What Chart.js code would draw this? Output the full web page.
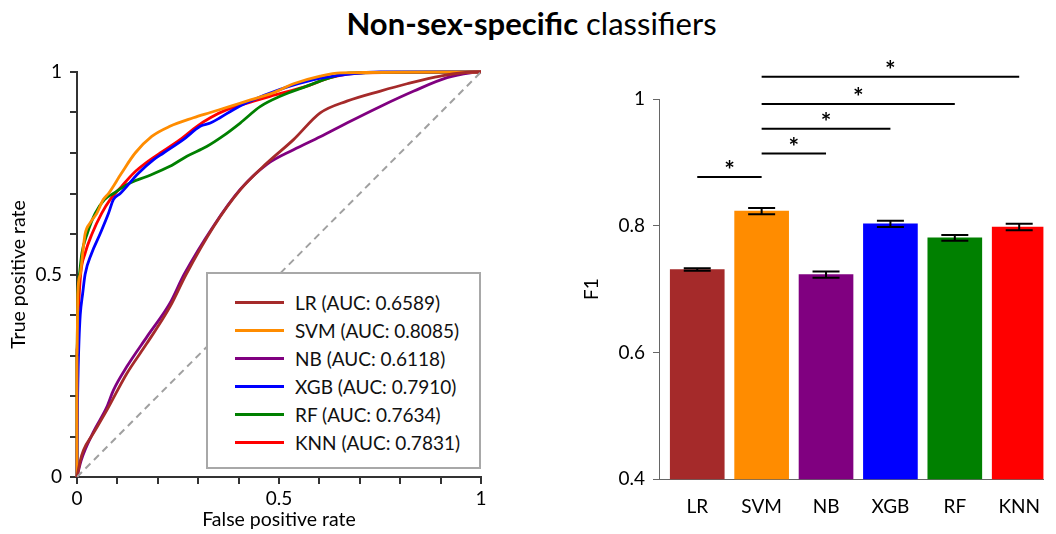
<!DOCTYPE html>
<html>
<head>
<meta charset="utf-8">
<script src="https://cdn.jsdelivr.net/npm/chart.js@4.4.1/dist/chart.umd.min.js"></script>
<style>
  html, body { margin: 0; padding: 0; background: #fff; overflow: hidden; }
  body { width: 1056px; height: 534px; position: relative; font-family: Lato, "Open Sans", sans-serif; }
  #title { position: absolute; left: 0; top: 5px; width: 1063px; text-align: center; font-size: 31px; line-height: 1.2; color: #000; }
  #title b { font-weight: 700; }
  #roc { position: absolute; left: 0; top: 50px; }
  #bars { position: absolute; left: 580px; top: 50px; }
  #legend { position: absolute; left: 206px; top: 272px; width: 275px; height: 197px; box-sizing: border-box;
            border: 2px solid #a8a8a8; background: #fff; padding-top: 15px; }
  #legend .row { height: 27.9px; display: flex; align-items: center; font-size: 19px; color: #111; }
  #legend .swatch { display: inline-block; width: 49px; height: 3px; margin-left: 27px; margin-right: 11px; }
</style>
</head>
<body>
<div id="title"><b>Non-sex-specific</b> classifiers</div>
<canvas id="roc" width="500" height="484"></canvas>
<canvas id="bars" width="476" height="484"></canvas>
<div id="legend"></div>
<script>
// 分類器與顏色
const models = ['LR', 'SVM', 'NB', 'XGB', 'RF', 'KNN'];
const aucs = ['0.6589', '0.8085', '0.6118', '0.7910', '0.7634', '0.7831'];
const colors = ['#a52a2a', '#ff8c00', '#800080', '#0000ff', '#008000', '#ff0000'];

// ROC 曲線
const lrFpr = [0, 0.008, 0.016, 0.04, 0.074, 0.123, 0.173, 0.23, 0.27, 0.338, 0.404, 0.47, 0.536, 0.602, 0.668, 0.751, 0.817, 0.9, 0.982, 1];
const lrTpr = [0, 0.04, 0.066, 0.107, 0.165, 0.255, 0.33, 0.42, 0.5, 0.618, 0.709, 0.775, 0.833, 0.899, 0.928, 0.953, 0.971, 0.99, 1, 1];

const svmFpr = [0, 0, 0.002, 0.008, 0.014, 0.02, 0.032, 0.049, 0.065, 0.078, 0.11, 0.144, 0.185, 0.23, 0.288, 0.33, 0.379, 0.42, 0.487, 0.536, 0.602, 0.652, 1];
const svmTpr = [0, 0.3, 0.453, 0.5, 0.552, 0.6, 0.627, 0.651, 0.685, 0.7, 0.75, 0.8, 0.841, 0.866, 0.887, 0.9, 0.915, 0.928, 0.949, 0.971, 0.99, 0.998, 1];

const nbFpr = [0, 0.01, 0.04, 0.074, 0.09, 0.123, 0.173, 0.23, 0.265, 0.338, 0.404, 0.47, 0.536, 0.602, 0.668, 0.751, 0.834, 0.916, 0.974, 1];
const nbTpr = [0, 0.04, 0.11, 0.173, 0.214, 0.272, 0.346, 0.429, 0.5, 0.62, 0.71, 0.772, 0.808, 0.84, 0.874, 0.915, 0.953, 0.986, 0.998, 1];

const xgbFpr = [0, 0.001, 0.003, 0.005, 0.008, 0.014, 0.02, 0.036, 0.057, 0.078, 0.09, 0.107, 0.152, 0.189, 0.214, 0.263, 0.305, 0.33, 0.354, 0.387, 0.42, 0.503, 0.586, 0.668, 0.751, 1];
const xgbTpr = [0, 0.15, 0.272, 0.338, 0.4, 0.453, 0.5, 0.552, 0.6, 0.651, 0.685, 0.7, 0.75, 0.783, 0.8, 0.833, 0.866, 0.874, 0.887, 0.907, 0.924, 0.957, 0.981, 0.994, 1, 1];

const rfFpr = [0, 0, 0.002, 0.006, 0.012, 0.025, 0.045, 0.068, 0.09, 0.131, 0.173, 0.23, 0.272, 0.321, 0.36, 0.404, 0.454, 0.503, 0.569, 0.627, 0.677, 1];
const rfTpr = [0, 0.3, 0.453, 0.5, 0.552, 0.6, 0.651, 0.685, 0.7, 0.726, 0.742, 0.767, 0.792, 0.816, 0.841, 0.874, 0.915, 0.94, 0.965, 0.986, 0.998, 1];

const knnFpr = [0, 0, 0.003, 0.009, 0.02, 0.037, 0.061, 0.082, 0.11, 0.14, 0.181, 0.206, 0.255, 0.297, 0.33, 0.371, 0.437, 0.478, 0.569, 0.627, 0.71, 1];
const knnTpr = [0, 0.313, 0.4, 0.5, 0.552, 0.6, 0.651, 0.685, 0.717, 0.75, 0.783, 0.8, 0.833, 0.866, 0.887, 0.907, 0.928, 0.94, 0.965, 0.986, 0.998, 1];

const diagFpr = [0, 1];
const diagTpr = [0, 1];

const rocTickValues = [0, 0.5, 1];
const rocTickLabels = ['0', '0.5', '1'];

// F1 長條圖
const f1Mean = [0.731, 0.823, 0.723, 0.803, 0.781, 0.798];
const f1Err = [0.002, 0.005, 0.005, 0.005, 0.0045, 0.005];
const f1TickLabels = ['0.4', '0.6', '0.8', '1'];

// 顯著性標記 (配對, 高度)
const sigPairs = [[0, 1], [1, 2], [1, 3], [1, 4], [1, 5]];
const sigLevel = [0.877, 0.914, 0.953, 0.992, 1.035];

const FONT = 'Lato, "Open Sans", sans-serif';
const toPts = (xs, ys) => xs.map((x, i) => ({ x: x, y: ys[i] }));
const rocFpr = [lrFpr, svmFpr, nbFpr, xgbFpr, rfFpr, knnFpr];
const rocTpr = [lrTpr, svmTpr, nbTpr, xgbTpr, rfTpr, knnTpr];

function rocLabel(v) {
    const k = rocTickValues.findIndex(t => Math.abs(t - v) < 1e-6);
    return k >= 0 ? rocTickLabels[k] : '';
}

new Chart(document.getElementById('roc'), {
    type: 'line',
    data: {
        datasets: [
            {
                label: 'chance',
                data: toPts(diagFpr, diagTpr),
                borderColor: '#a0a0a0',
                borderDash: [7, 5],
                borderWidth: 2,
                pointRadius: 0
            },
            ...models.map((m, i) => ({
                label: `${m} (AUC: ${aucs[i]})`,
                data: toPts(rocFpr[i], rocTpr[i]),
                borderColor: colors[i],
                borderWidth: 2.8,
                pointRadius: 0,
                cubicInterpolationMode: 'monotone',
                clip: 4
            }))
        ]
    },
    options: {
        responsive: false,
        animation: false,
        devicePixelRatio: 1,
        layout: { padding: { left: 7, top: 22, right: 19, bottom: 3 } },
        plugins: { legend: { display: false }, tooltip: { enabled: false } },
        scales: {
            x: {
                type: 'linear', min: 0, max: 1,
                afterFit: s => { s.height = 54; },
                ticks: { stepSize: 0.1, autoSkip: false, maxRotation: 0, padding: 3, color: '#000',
                         font: { family: FONT, size: 19 }, callback: rocLabel },
                grid: { drawOnChartArea: false, tickLength: 7, color: '#333', lineWidth: 2 },
                border: { color: '#333', width: 2 },
                title: { display: true, text: 'False positive rate', color: '#000',
                         font: { family: FONT, size: 19.5 }, padding: 0 }
            },
            y: {
                type: 'linear', min: 0, max: 1,
                afterFit: s => { s.width = 70; },
                ticks: { stepSize: 0.1, autoSkip: false, padding: 8, color: '#000',
                         font: { family: FONT, size: 19 }, callback: rocLabel },
                grid: { drawOnChartArea: false, tickLength: 7, color: '#333', lineWidth: 2 },
                border: { color: '#333', width: 2 },
                title: { display: true, text: 'True positive rate', color: '#000',
                         font: { family: FONT, size: 19.5 }, padding: 0 }
            }
        }
    }
});

// 圖例
const legendEl = document.getElementById('legend');
models.forEach((m, i) => {
    const row = document.createElement('div');
    row.className = 'row';
    row.innerHTML = `<span class="swatch" style="background:${colors[i]}"></span><span>${m} (AUC: ${aucs[i]})</span>`;
    legendEl.appendChild(row);
});

// 誤差線與顯著性標記
const barExtras = {
    id: 'barExtras',
    afterDatasetsDraw(chart) {
        const { ctx, scales: { x, y } } = chart;
        ctx.save();
        ctx.strokeStyle = '#000';
        ctx.lineWidth = 2;
        f1Mean.forEach((m, i) => {
            const cx = x.getPixelForValue(i);
            const top = y.getPixelForValue(m + f1Err[i]);
            const bot = y.getPixelForValue(m - f1Err[i]);
            ctx.beginPath();
            ctx.moveTo(cx, top); ctx.lineTo(cx, bot);
            ctx.moveTo(cx - 13.5, top); ctx.lineTo(cx + 13.5, top);
            ctx.moveTo(cx - 13.5, bot); ctx.lineTo(cx + 13.5, bot);
            ctx.stroke();
        });
        ctx.font = 'bold 25px ' + FONT;
        ctx.textAlign = 'center';
        ctx.textBaseline = 'alphabetic';
        ctx.fillStyle = '#000';
        sigPairs.forEach(([a, b], k) => {
            const yy = y.getPixelForValue(sigLevel[k]);
            const xa = x.getPixelForValue(a);
            const xb = x.getPixelForValue(b);
            ctx.beginPath();
            ctx.moveTo(xa, yy); ctx.lineTo(xb, yy);
            ctx.stroke();
            ctx.fillText('*', (xa + xb) / 2, yy + 2);
        });
        ctx.restore();
    }
};

new Chart(document.getElementById('bars'), {
    type: 'bar',
    data: {
        datasets: [{
            label: 'F1',
            data: toPts(models.map((m, i) => i), f1Mean),
            backgroundColor: colors,
            barThickness: 54
        }]
    },
    options: {
        responsive: false,
        animation: false,
        devicePixelRatio: 1,
        layout: { padding: { left: 0, top: 49, right: 0, bottom: 0 } },
        plugins: { legend: { display: false }, tooltip: { enabled: false } },
        scales: {
            x: {
                type: 'linear', min: -0.594, max: 5.376, offset: false,
                afterFit: s => { s.height = 54.7; },
                afterBuildTicks: s => { s.ticks = models.map((m, i) => ({ value: i })); },
                ticks: { autoSkip: false, maxRotation: 0, padding: 16, color: '#000',
                         font: { family: FONT, size: 19 }, callback: v => models[v] },
                grid: { display: false, drawTicks: false },
                border: { color: '#666', width: 1 }
            },
            y: {
                type: 'linear', min: 0.4, max: 1,
                afterFit: s => { s.width = 79; },
                ticks: { stepSize: 0.2, autoSkip: false, padding: 8, color: '#000',
                         font: { family: FONT, size: 19 },
                         callback: (v, i) => f1TickLabels[i] },
                grid: { drawOnChartArea: false, tickLength: 6, color: '#666', lineWidth: 1 },
                border: { color: '#666', width: 1 },
                title: { display: true, text: 'F1', color: '#000', font: { family: FONT, size: 19 }, padding: 0 }
            }
        }
    },
    plugins: [barExtras]
});
</script>
</body>
</html>
